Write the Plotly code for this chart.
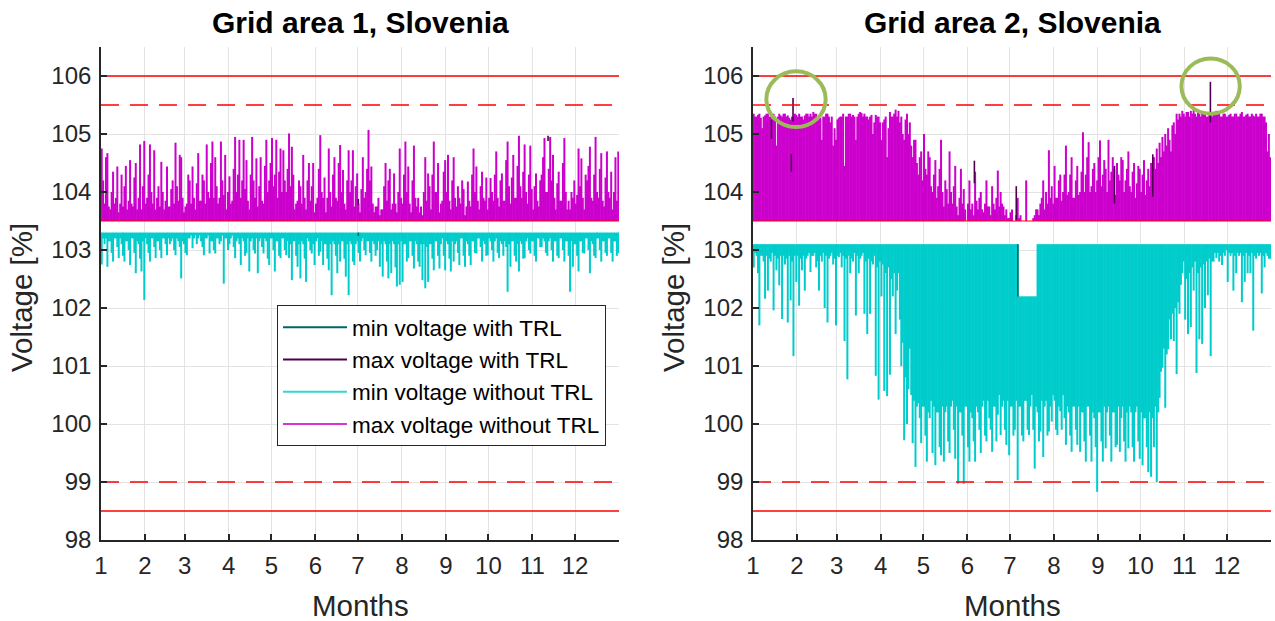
import plotly.graph_objects as go

# ---------------- data ----------------
month_starts = [0, 31, 59, 90, 120, 151, 181, 212, 243, 273, 304, 334]
month_labels = ["1", "2", "3", "4", "5", "6", "7", "8", "9", "10", "11", "12"]
year_days = 365

# Daily values (day 1 .. day 365)
# Grid area 1 - max voltage without TRL [%]
max1 = [
    104.75, 104.2, 103.8, 104.6, 104.67, 103.75, 103.7, 104.0, 104.35, 103.8,
    103.9, 104.44, 103.65, 103.8, 104.3, 103.75, 104.1, 104.45, 103.7, 103.85,
    104.55, 103.8, 103.75, 104.25, 104.5, 103.7, 103.9, 104.82, 103.7, 104.1,
    104.88, 103.8, 103.9, 104.3, 104.82, 104.0, 103.8, 104.72, 103.7, 103.9,
    104.1, 103.75, 104.52, 104.0, 103.7, 103.85, 104.44, 103.75, 103.75, 104.05,
    104.2, 103.8, 104.85, 104.1, 103.85, 104.64, 104.6, 103.9, 103.65, 103.75,
    103.8, 104.3, 104.2, 103.8, 104.44, 103.9, 103.7, 104.15, 104.67, 103.85,
    103.85, 104.3, 104.2, 103.8, 104.82, 104.0, 103.9, 104.5, 104.87, 103.9,
    104.6, 104.1, 103.8, 103.9, 104.87, 104.2, 103.95, 104.64, 103.7, 104.0,
    104.27, 103.8, 103.85, 104.4, 104.95, 104.0, 104.3, 104.9, 103.9, 104.2,
    104.9, 104.05, 104.55, 103.85, 103.7, 104.3, 104.95, 104.2, 103.9, 104.58,
    103.75, 104.1, 104.6, 103.85, 103.8, 104.45, 104.9, 104.0, 104.2, 104.5,
    104.93, 104.1, 104.3, 104.9, 103.9, 104.35, 104.75, 104.0, 104.72, 104.2,
    104.0, 104.4, 105.01, 104.1, 104.78, 104.3, 103.7, 103.8, 103.85, 104.2,
    104.1, 103.8, 104.64, 103.9, 103.7, 104.2, 104.5, 103.85, 104.1, 104.5,
    103.65, 103.8, 103.9, 104.4, 104.98, 104.0, 103.9, 104.25, 103.65, 103.9,
    104.75, 104.0, 103.75, 104.3, 104.6, 103.9, 103.85, 104.5, 104.81, 104.0,
    104.38, 103.8, 103.7, 104.2, 104.72, 104.0, 104.2, 104.72, 103.75, 104.1,
    104.32, 103.8, 103.65, 104.05, 104.6, 103.9, 104.0, 104.4, 105.07, 104.2,
    104.44, 103.8, 103.65, 103.75, 103.75, 103.9, 103.6, 103.7, 103.7, 104.1,
    104.5, 103.85, 104.2, 104.4, 103.7, 103.8, 104.32, 103.8, 103.65, 104.0,
    104.75, 103.9, 103.8, 104.3, 104.87, 104.0, 104.44, 103.8, 103.65, 104.2,
    104.8, 103.9, 103.75, 103.9, 103.65, 103.75, 103.6, 104.0, 104.6, 103.85,
    104.32, 104.1, 103.7, 104.3, 104.87, 104.0, 104.0, 104.5, 103.65, 103.8,
    103.85, 104.35, 104.55, 104.0, 104.64, 103.85, 103.7, 104.2, 104.6, 103.9,
    103.75, 104.1, 103.9, 103.8, 104.2, 104.05, 103.6, 103.75, 104.18, 103.85,
    103.75, 104.3, 104.75, 104.0, 104.44, 103.85, 103.7, 104.1, 104.35, 103.9,
    103.85, 104.25, 103.7, 103.9, 104.24, 104.0, 103.85, 104.3, 104.7, 103.9,
    103.75, 104.2, 104.32, 103.85, 103.85, 104.55, 104.87, 104.1, 103.8, 104.25,
    104.64, 103.9, 103.9, 104.45, 104.97, 104.1, 103.9, 104.35, 104.82, 104.0,
    103.8, 104.3, 104.8, 104.05, 103.7, 104.1, 104.32, 103.85, 103.75, 104.2,
    104.3, 104.6, 104.93, 104.0, 104.0, 104.4, 104.95, 104.2, 104.64, 103.9,
    103.7, 104.15, 104.35, 103.85, 103.85, 104.5, 104.93, 104.0, 103.7, 103.85,
    103.7, 104.0, 103.9, 104.2, 103.8, 103.95, 104.75, 104.1, 104.58, 103.9,
    103.7, 104.3, 104.2, 104.45, 104.78, 103.9, 103.85, 104.3, 104.95, 104.0,
    103.9, 104.4, 104.67, 103.85, 103.75, 104.25, 104.7, 104.0, 103.9, 104.35,
    103.7, 104.0, 104.6, 103.85, 104.7,
]

# Grid area 1 - min voltage without TRL [%]
min1 = [
    102.75, 103.2, 103.1, 103.2, 102.71, 103.15, 103.15, 102.95, 102.8, 103.2,
    103.2, 103.05, 102.86, 103.2, 103.1, 102.9, 102.8, 103.15, 103.15, 103.0,
    102.74, 103.2, 103.2, 102.95, 102.6, 103.15, 103.1, 102.85, 102.63, 103.15,
    102.14, 103.2, 103.1, 102.95, 102.8, 103.2, 103.2, 103.05, 102.86, 103.15,
    103.15, 103.0, 102.86, 103.2, 103.2, 103.1, 102.91, 103.2, 103.1, 103.15,
    103.2, 103.0, 102.91, 103.2, 103.15, 103.05, 102.51, 103.15, 103.1, 102.95,
    102.91, 103.2, 103.2, 103.25, 103.03, 103.2, 103.25, 103.1, 103.2, 103.25,
    103.15, 103.05, 102.91, 103.2, 103.2, 103.25, 102.94, 103.15, 103.15, 103.0,
    102.94, 103.2, 103.2, 103.1, 103.15, 103.25, 102.42, 103.2, 103.2, 103.0,
    103.1, 103.2, 103.25, 103.05, 102.86, 103.15, 103.2, 103.1, 102.74, 103.2,
    103.15, 102.9, 102.95, 103.2, 102.63, 103.15, 103.2, 103.0, 102.94, 103.2,
    102.6, 103.15, 103.2, 103.05, 102.94, 103.2, 103.15, 102.85, 102.74, 103.2,
    103.2, 103.0, 102.63, 103.15, 103.15, 102.9, 102.86, 103.2, 103.2, 103.0,
    102.91, 103.15, 102.86, 103.1, 102.48, 103.15, 103.15, 102.9, 102.71, 103.1,
    102.51, 103.15, 103.1, 102.85, 102.45, 103.2, 103.15, 103.0, 102.94, 103.1,
    102.74, 103.15, 103.2, 102.9, 102.97, 103.15, 102.74, 103.1, 103.1, 102.85,
    102.65, 103.1, 102.22, 103.15, 103.1, 102.9, 102.6, 103.1, 102.8, 103.15,
    103.15, 102.85, 102.54, 103.1, 102.22, 103.15, 103.1, 102.8, 102.74, 103.1,
    103.15, 102.95, 102.8, 103.15, 103.2, 103.0, 102.91, 103.15, 103.15, 102.95,
    102.8, 103.15, 103.1, 102.9, 103.0, 103.15, 102.71, 103.1, 102.54, 103.15,
    103.1, 102.8, 102.51, 103.1, 102.6, 103.15, 103.1, 102.7, 102.37, 103.1,
    102.4, 103.15, 102.45, 103.1, 103.1, 102.8, 102.86, 103.15, 103.15, 102.9,
    102.68, 103.15, 103.1, 102.8, 102.71, 103.1, 102.48, 103.1, 102.34, 103.05,
    102.45, 103.1, 103.1, 102.85, 102.65, 103.15, 103.15, 102.9, 102.68, 103.1,
    103.2, 102.9, 102.65, 103.15, 103.1, 102.85, 102.63, 103.15, 102.8, 103.1,
    103.15, 102.95, 102.74, 103.2, 103.2, 102.9, 102.71, 103.15, 103.1, 102.9,
    102.74, 103.15, 103.15, 102.95, 102.94, 103.2, 103.2, 103.05, 102.8, 103.15,
    103.1, 102.9, 102.91, 103.2, 103.15, 103.0, 102.8, 103.15, 103.2, 102.95,
    102.86, 103.15, 103.1, 102.9, 103.15, 103.05, 102.28, 103.1, 102.71, 103.15,
    103.15, 102.9, 102.8, 103.1, 102.63, 103.15, 103.1, 102.85, 102.86, 103.15,
    103.2, 103.0, 102.94, 103.15, 103.15, 102.9, 102.8, 103.2, 103.2, 103.05,
    103.05, 103.2, 103.15, 102.95, 102.9, 103.15, 103.2, 103.0, 102.8, 103.15,
    103.15, 102.9, 102.86, 103.2, 103.2, 103.0, 102.8, 103.15, 103.15, 102.9,
    102.28, 103.15, 102.71, 103.1, 103.1, 102.9, 102.63, 103.15, 103.15, 102.95,
    102.94, 103.2, 103.2, 103.0, 102.6, 103.15, 103.1, 102.9, 102.86, 103.2,
    103.2, 103.0, 102.8, 103.15, 103.15, 102.95, 102.9, 103.2, 103.2, 102.95,
    102.8, 103.15, 103.15, 102.9, 102.95,
]

# Grid area 2 - max voltage without TRL [%]
max2 = [
    105.35, 105.3, 105.3, 105.33, 105.35, 105.28, 105.1, 105.3, 105.32, 105.35,
    105.35, 105.3, 105.3, 105.25, 105.35, 105.3, 104.8, 105.3, 105.35, 105.32,
    105.3, 105.35, 105.35, 105.3, 105.32, 105.28, 105.25, 105.3, 105.3, 105.35,
    105.33, 105.3, 105.35, 105.3, 105.3, 105.25, 105.32, 105.35, 105.35, 105.3,
    105.35, 105.3, 105.38, 105.35, 105.35, 105.3, 105.3, 105.28, 104.9, 105.3,
    105.3, 105.35, 105.35, 105.3, 105.2, 105.3, 104.8, 105.1, 104.9, 105.25,
    105.28, 105.3, 105.3, 105.35, 104.45, 105.3, 105.3, 105.35, 105.35, 105.3,
    105.33, 105.3, 104.9, 105.3, 105.35, 105.38, 105.36, 105.3, 105.35, 105.3,
    105.3, 105.25, 105.3, 105.33, 105.0, 105.2, 105.33, 105.3, 105.3, 105.2,
    104.9, 105.2, 105.25, 105.3, 104.6, 105.1, 105.38, 105.3, 105.3, 105.35,
    105.42, 105.3, 105.4, 105.2, 105.3, 105.0, 104.9, 105.25, 105.35, 105.0,
    105.2, 104.8, 104.6, 104.9, 104.9, 104.5, 104.3, 104.6, 104.7, 104.2,
    105.0, 104.4, 104.3, 104.7, 104.6, 104.1, 104.0, 104.3, 104.55, 103.9,
    104.1, 104.4, 104.9, 104.0, 103.75, 104.2, 104.05, 103.8, 104.7, 104.0,
    103.8, 104.1, 104.45, 103.75, 103.6, 103.9, 104.4, 103.8, 104.05, 103.7,
    103.5, 103.8, 104.2, 103.7, 103.8, 103.6, 104.35, 103.85, 103.7, 103.9,
    104.0, 103.7, 103.65, 103.8, 104.2, 103.75, 103.75, 103.6, 104.1, 103.8,
    103.7, 103.9, 104.37, 103.75, 104.0, 103.8, 103.75, 103.6, 103.7, 103.55,
    103.55, 103.65, 103.7, 103.5, 103.5, 103.6, 103.9, 103.55, 103.6, 103.5,
    103.5, 103.5, 104.2, 103.5, 103.5, 103.5, 103.5, 103.55, 103.6, 103.7,
    103.7, 103.6, 103.8, 103.9, 104.2, 103.7, 104.0, 103.8, 104.72, 103.9,
    104.1, 103.8, 104.45, 103.9, 103.9, 104.2, 104.3, 103.85, 104.0, 104.3,
    104.8, 103.95, 104.0, 104.3, 104.6, 103.9, 103.9, 104.2, 104.45, 103.95,
    104.0, 104.35, 105.03, 104.0, 104.3, 104.6, 104.86, 104.0, 104.1, 104.4,
    104.5, 104.0, 104.2, 104.6, 104.89, 104.1, 104.3, 104.55, 104.4, 104.0,
    104.9, 104.2, 104.35, 104.6, 104.4, 103.95, 104.5, 104.3, 104.2, 104.6,
    104.55, 104.0, 104.2, 104.4, 104.7, 104.1, 104.0, 104.35, 104.5, 103.9,
    104.15, 104.45, 104.4, 104.0, 104.3, 104.55, 103.95, 104.2, 104.4, 104.1,
    104.5, 104.3, 104.6, 104.4, 104.75, 104.5, 104.85, 104.6, 104.95, 104.7,
    105.0, 104.8, 105.1, 104.9, 104.7, 105.15, 105.2, 105.0, 105.35, 105.25,
    105.35, 105.3, 105.4, 105.35, 105.3, 105.38, 105.38, 105.3, 105.4, 105.35,
    105.42, 105.35, 105.3, 105.38, 105.35, 105.3, 105.38, 105.35, 105.35, 105.3,
    105.3, 105.35, 105.35, 105.3, 105.35, 105.38, 105.4, 105.35, 105.35, 105.3,
    105.3, 105.35, 105.35, 105.3, 105.3, 105.33, 105.35, 105.3, 105.3, 105.35,
    105.35, 105.3, 105.3, 105.35, 105.38, 105.3, 105.3, 105.33, 105.35, 105.3,
    105.3, 105.35, 105.32, 105.3, 105.35, 105.3, 105.3, 105.35, 105.35, 105.3,
    105.3, 105.2, 104.7, 105.0, 104.6,
]

# Grid area 2 - min voltage without TRL [%]
min2 = [
    102.7, 102.95, 102.9, 102.6, 101.7, 102.9, 102.9, 102.8, 102.16, 102.9,
    102.3, 102.85, 102.8, 102.95, 101.96, 102.9, 102.65, 102.85, 102.39, 102.9,
    101.81, 102.9, 102.75, 102.85, 101.75, 102.9, 102.13, 102.8, 101.17, 102.9,
    102.45, 102.9, 102.04, 102.85, 102.65, 102.9, 102.3, 102.85, 102.9, 102.95,
    102.62, 102.9, 102.9, 102.95, 102.7, 102.8, 102.3, 102.9, 102.8, 102.95,
    102.0, 102.9, 101.75, 102.85, 102.9, 102.95, 102.75, 102.85, 101.7, 102.9,
    102.88, 102.95, 102.7, 102.9, 101.43, 102.85, 100.77, 102.9, 102.6, 102.85,
    102.8, 102.95, 101.87, 102.9, 102.6, 102.85, 102.9, 102.95, 101.9, 102.8,
    101.55, 102.85, 101.9, 102.8, 102.75, 102.9, 100.83, 102.7, 100.42, 102.8,
    102.2, 102.75, 100.57, 102.6, 100.48, 102.7, 100.85, 102.5, 102.2, 102.6,
    101.55, 102.3, 102.6, 101.8, 101.0, 101.4, 99.72, 100.8, 100.0, 100.6,
    101.3, 100.5, 99.67, 100.4, 99.26, 100.3, 100.36, 100.1, 99.67, 100.3,
    100.3, 99.8, 99.35, 100.2, 100.1, 100.4, 99.5, 100.3, 99.29, 100.2,
    100.2, 99.6, 99.46, 100.3, 99.35, 100.2, 100.3, 99.7, 99.5, 100.3,
    100.4, 99.9, 99.4, 100.3, 98.97, 100.2, 100.2, 99.8, 98.97, 100.3,
    100.3, 99.6, 99.35, 100.2, 100.1, 99.7, 99.35, 100.3, 100.2, 99.9,
    99.5, 100.3, 100.4, 99.8, 99.7, 100.4, 100.1, 99.9, 99.52, 100.3,
    100.3, 99.7, 100.16, 100.5, 99.81, 100.3, 100.4, 99.9, 99.64, 100.4,
    99.46, 100.3, 100.3, 99.8, 99.9, 100.4, 99.03, 100.3, 100.3, 99.8,
    99.7, 100.4, 100.4, 99.9, 99.81, 100.3, 100.5, 99.9, 99.23, 100.3,
    100.2, 99.7, 99.87, 100.4, 99.43, 100.3, 100.4, 99.8, 99.87, 100.3,
    100.04, 100.5, 100.4, 99.9, 99.81, 100.3, 100.22, 99.9, 100.5, 100.1,
    99.64, 100.3, 100.2, 99.8, 99.52, 100.3, 100.3, 99.9, 99.64, 100.3,
    99.52, 100.2, 100.2, 99.7, 99.35, 100.3, 100.3, 99.8, 99.35, 100.2,
    100.1, 99.6, 98.83, 100.2, 100.2, 99.7, 99.35, 100.3, 99.58, 100.2,
    100.3, 99.8, 99.35, 100.2, 100.2, 99.6, 99.64, 100.3, 99.52, 100.1,
    100.3, 99.7, 99.35, 100.2, 99.58, 100.3, 100.2, 99.6, 99.35, 100.2,
    100.3, 99.7, 99.4, 100.2, 99.29, 100.1, 100.1, 99.6, 99.17, 100.2,
    99.09, 100.1, 99.6, 100.3, 99.0, 100.2, 100.45, 100.9, 100.97, 101.3,
    100.28, 101.2, 101.29, 101.8, 101.46, 101.9, 101.43, 102.0, 100.86, 102.1,
    101.9, 102.4, 102.6, 102.8, 101.8, 102.5, 101.55, 102.6, 101.67, 102.7,
    102.3, 102.8, 100.88, 102.6, 101.46, 102.7, 101.38, 102.75, 102.0, 102.8,
    102.22, 102.85, 101.17, 102.8, 102.8, 102.95, 102.86, 102.95, 102.8, 102.9,
    102.74, 102.95, 102.9, 103.0, 102.45, 102.95, 102.9, 102.95, 102.3, 102.9,
    102.6, 102.95, 102.9, 102.95, 102.1, 102.9, 102.45, 102.95, 102.6, 102.9,
    102.6, 102.95, 101.61, 102.9, 102.85, 102.95, 102.9, 102.95, 102.25, 102.9,
    102.7, 102.95, 102.9, 102.85, 102.85,
]

max_base = 103.5      # lower envelope of the max-voltage series
min1_top = 103.3      # upper envelope of the min-voltage series, area 1
min2_top = 103.1      # upper envelope of the min-voltage series, area 2
min2_notch_first_day = 187   # days where area-2 min series stays below its usual top
min2_notch_last_day = 199
min2_notch_top = 102.2

# With TRL (visible parts only): day, low value, high value
trl_min1_days = [181.3]
trl_min1_lo = [103.24]
trl_min1_hi = [103.3]
trl_max1_days = [181.3, 315.0]
trl_max1_lo = [103.78, 104.88]
trl_max1_hi = [103.88, 104.97]
trl_min2_days = [186.6]
trl_min2_lo = [102.2]
trl_min2_hi = [103.1]
trl_max2_days = [13.0, 27.0, 28.2, 156.0, 185.5, 254.7, 281.7, 322.3]
trl_max2_lo = [104.92, 104.35, 105.22, 104.15, 103.52, 103.8, 103.92, 105.2]
trl_max2_hi = [105.25, 104.65, 105.62, 104.54, 104.1, 104.45, 104.65, 105.9]

# Voltage limits
limit_values = [106.0, 105.5, 99.0, 98.5]
limit_dashed = [False, True, True, False]
ref_line = 103.5

# Highlight circles in area 2: (day0, day1, v0, v1)
circle_day0 = [9.4, 301.9]
circle_day1 = [51.2, 343.0]
circle_v0 = [105.12, 105.35]
circle_v1 = [106.08, 106.3]

legend_names = ["min voltage with TRL", "max voltage with TRL",
                "min voltage without TRL", "max voltage without TRL"]

# ---------------- styling ----------------
FONT = "Liberation Sans, Arial, Helvetica, sans-serif"
TXT = "#262626"
C_MIN = "#00CCCC"
C_MAX = "#CC00CC"
C_MIN_TRL = "#006666"
C_MAX_TRL = "#4D004D"
RED = "#FF0000"
GRID = "#E3E3E3"
legend_colors = [C_MIN_TRL, C_MAX_TRL, "#33D6D6", "#D633D6"]

sample_days = [d + 0.5 for d in range(len(max1))]


def segments(days, lo, hi):
    xs, ys = [], []
    for d, a, b in zip(days, lo, hi):
        xs += [d, d, None]
        ys += [a, b, None]
    return xs, ys


fig = go.Figure()

min2_tops = [min2_notch_top if min2_notch_first_day <= d <= min2_notch_last_day else min2_top
             for d in range(len(min2))]

panels = [
    dict(xa="x", ya="y", mx=max1, mn=min1, mn_top=[min1_top] * len(min1),
         tmin=(trl_min1_days, trl_min1_lo, trl_min1_hi),
         tmax=(trl_max1_days, trl_max1_lo, trl_max1_hi)),
    dict(xa="x2", ya="y2", mx=max2, mn=min2, mn_top=min2_tops,
         tmin=(trl_min2_days, trl_min2_lo, trl_min2_hi),
         tmax=(trl_max2_days, trl_max2_lo, trl_max2_hi)),
]

BW = 2.0  # stroke width of each daily sample
for p in panels:
    sx, sy = segments(sample_days, p["mn"], p["mn_top"])
    fig.add_trace(go.Scatter(x=sx, y=sy, mode="lines", xaxis=p["xa"], yaxis=p["ya"],
                             line=dict(color=C_MIN, width=BW), legendgroup="g3",
                             showlegend=False, hoverinfo="skip"))
    sx, sy = segments(sample_days, [max_base] * len(p["mx"]), p["mx"])
    fig.add_trace(go.Scatter(x=sx, y=sy, mode="lines", xaxis=p["xa"], yaxis=p["ya"],
                             line=dict(color=C_MAX, width=BW), legendgroup="g4",
                             showlegend=False, hoverinfo="skip"))
    sx, sy = segments(*p["tmin"])
    fig.add_trace(go.Scatter(x=sx, y=sy, mode="lines", xaxis=p["xa"], yaxis=p["ya"],
                             line=dict(color=C_MIN_TRL, width=1.6), legendgroup="g1",
                             showlegend=False, hoverinfo="skip"))
    sx, sy = segments(*p["tmax"])
    fig.add_trace(go.Scatter(x=sx, y=sy, mode="lines", xaxis=p["xa"], yaxis=p["ya"],
                             line=dict(color=C_MAX_TRL, width=1.6), legendgroup="g2",
                             showlegend=False, hoverinfo="skip"))
    for v, dsh in zip(limit_values, limit_dashed):
        fig.add_trace(go.Scatter(x=[0, year_days], y=[v, v], mode="lines", xaxis=p["xa"], yaxis=p["ya"],
                                 line=dict(color=RED, width=1.4, dash="18px,11px" if dsh else "solid"),
                                 showlegend=False, hoverinfo="skip"))
    fig.add_trace(go.Scatter(x=[0, year_days], y=[ref_line, ref_line], mode="lines",
                             xaxis=p["xa"], yaxis=p["ya"], line=dict(color=RED, width=1.2),
                             showlegend=False, hoverinfo="skip"))

# legend entries (line keys only)
for i, (nm, col) in enumerate(zip(legend_names, legend_colors)):
    fig.add_trace(go.Scatter(x=[None], y=[None], mode="lines", name=nm, legendgroup="g%d" % (i + 1),
                             line=dict(color=col, width=2), legendrank=i + 1, showlegend=True,
                             xaxis="x", yaxis="y", hoverinfo="skip"))

for x0, x1, y0, y1 in zip(circle_day0, circle_day1, circle_v0, circle_v1):
    fig.add_shape(type="circle", xref="x2", yref="y2", x0=x0, x1=x1, y0=y0, y1=y1,
                  line=dict(color="#9BBB59", width=4), layer="above")

W, H = 1275, 621
xdom1 = [101 / W, 619 / W]
xdom2 = [753 / W, 1271 / W]
ydom = [(H - 540) / H, (H - 47) / H]

xcommon = dict(range=[0, year_days], tickvals=month_starts, ticktext=month_labels,
               ticks="inside", ticklen=6, tickwidth=1.5, tickcolor=TXT,
               showline=True, linecolor=TXT, linewidth=1.6, showgrid=True, gridcolor=GRID,
               gridwidth=1, zeroline=False, tickfont=dict(family=FONT, size=24, color=TXT),
               ticklabelstandoff=3, fixedrange=True, automargin=False)
ycommon = dict(range=[98, 106.5], tickvals=[98, 99, 100, 101, 102, 103, 104, 105, 106],
               ticks="inside", ticklen=6, tickwidth=1.5, tickcolor=TXT,
               showline=True, linecolor=TXT, linewidth=1.6, showgrid=True, gridcolor=GRID,
               gridwidth=1, zeroline=False, tickfont=dict(family=FONT, size=24, color=TXT),
               ticklabelstandoff=3, fixedrange=True, automargin=False)

fig.update_layout(
    width=W, height=H, margin=dict(l=0, r=0, t=0, b=0, autoexpand=False),
    paper_bgcolor="white", plot_bgcolor="white",
    xaxis=dict(domain=xdom1, anchor="y", **xcommon),
    yaxis=dict(domain=ydom, anchor="x", **ycommon),
    xaxis2=dict(domain=xdom2, anchor="y2", **xcommon),
    yaxis2=dict(domain=ydom, anchor="x2", **ycommon),
    showlegend=True,
    legend=dict(x=277 / W, y=1 - 305 / H, xanchor="left", yanchor="top",
                bgcolor="white", bordercolor=TXT, borderwidth=1,
                font=dict(family=FONT, size=22.5, color="#000000"),
                itemwidth=64, tracegroupgap=0, itemclick=False, itemdoubleclick=False),
)

titles = ["Grid area 1, Slovenia", "Grid area 2, Slovenia"]
for dom, t, ylx in [(xdom1, titles[0], 21), (xdom2, titles[1], 673)]:
    cx = (dom[0] + dom[1]) / 2
    fig.add_annotation(text="<b>%s</b>" % t, x=cx, y=1 - 22 / H, xref="paper", yref="paper",
                       showarrow=False, font=dict(family=FONT, size=30, color="#000000"),
                       xanchor="center", yanchor="middle")
    fig.add_annotation(text="Months", x=cx, y=1 - 605 / H, xref="paper", yref="paper",
                       showarrow=False, font=dict(family=FONT, size=29.5, color=TXT),
                       xanchor="center", yanchor="middle")
    fig.add_annotation(text="Voltage [%]", x=ylx / W, y=1 - 298 / H, xref="paper", yref="paper",
                       showarrow=False, textangle=-90, font=dict(family=FONT, size=29.5, color=TXT),
                       xanchor="center", yanchor="middle")

fig.write_html("out.html")
